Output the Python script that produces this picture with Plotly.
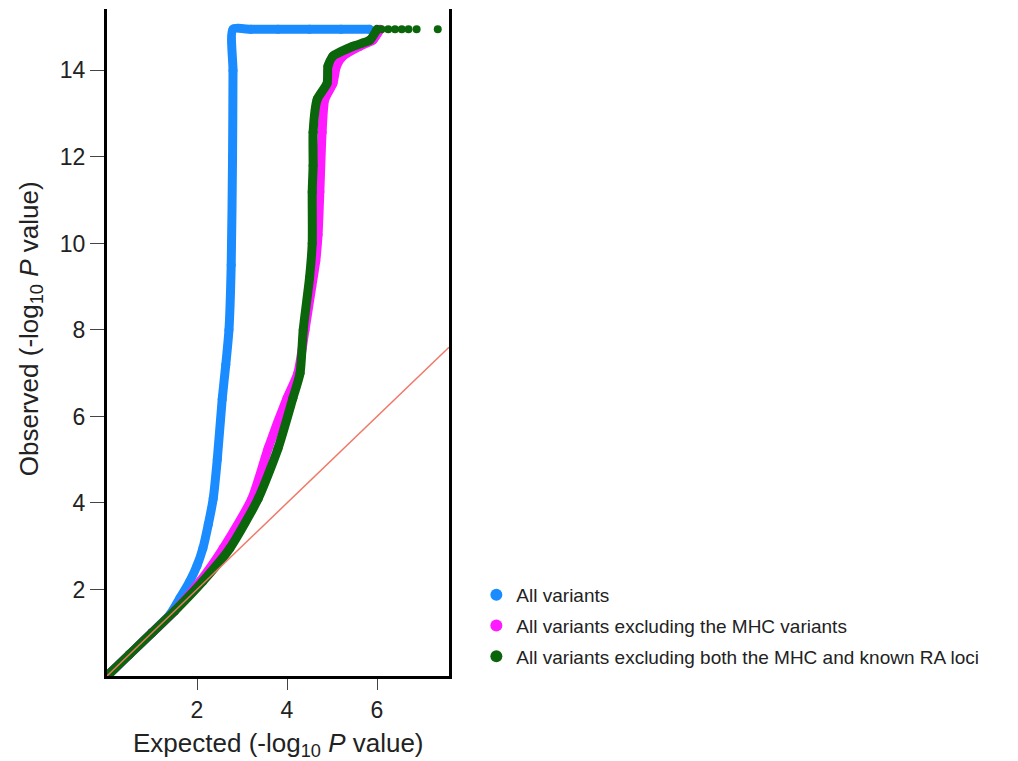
import plotly.graph_objects as go

# Expected (-log10 P) vs Observed (-log10 P)
blue_x = [0.05, 0.5, 1.0, 1.4, 1.62, 1.84, 2.0, 2.13, 2.25, 2.36, 2.45, 2.56, 2.64, 2.71, 2.76, 2.79, 2.8, 2.8,
          3.2, 3.8, 4.5, 5.2, 5.84]
blue_y = [0.05, 0.5, 1.0, 1.42, 1.8, 2.19, 2.55, 2.95, 3.5, 4.1, 5.0, 6.4, 7.2, 8.0, 9.5, 12.0, 14.0, 14.95,
          14.95, 14.95, 14.95, 14.95, 14.95]

mag_x = [0.05, 0.5, 1.0, 1.5, 2.07, 2.58, 3.22, 3.58, 4.0, 4.24, 4.4, 4.55, 4.64, 4.69, 4.73, 4.78, 4.84,
         5.02, 5.1, 5.24, 5.62, 5.91, 6.07]
mag_y = [0.05, 0.5, 1.0, 1.5, 2.19, 2.95, 4.1, 5.26, 6.42, 7.0, 8.0, 9.0, 9.6, 10.2, 11.19, 12.57, 13.33,
         13.7, 14.1, 14.33, 14.56, 14.7, 14.95]

green_x = [0.05, 0.5, 1.0, 1.5, 2.13, 2.73, 3.36, 3.8, 4.13, 4.29, 4.36, 4.5, 4.56, 4.56, 4.58, 4.58, 4.67,
           4.89, 4.91, 5.02, 5.47, 5.84, 6.0]
green_y = [0.05, 0.5, 1.0, 1.5, 2.19, 2.95, 4.1, 5.26, 6.42, 7.0, 8.0, 9.2, 10.0, 11.19, 11.8, 12.57, 13.33,
           13.7, 14.1, 14.33, 14.56, 14.7, 14.95]
green_tail_x = [6.1, 6.25, 6.4, 6.55, 6.7, 6.88, 7.35]
green_tail_y = [14.95, 14.95, 14.95, 14.95, 14.95, 14.95, 14.95]

null_x = [0, 7.6]
null_y = [0, 7.6]

series_names = ["All variants",
                "All variants excluding the MHC variants",
                "All variants excluding both the MHC and known RA loci"]
colors = ["#1a8cff", "#ff1aff", "#0b650b"]

x_title = "Expected (-log<sub>10</sub> <i>P</i> value)"
y_title = "Observed (-log<sub>10</sub> <i>P</i> value)"

fig = go.Figure()
for xs, ys, c in [(blue_x, blue_y, colors[0]), (mag_x, mag_y, colors[1]), (green_x, green_y, colors[2])]:
    fig.add_trace(go.Scatter(x=xs, y=ys, mode="lines+markers", showlegend=False,
                             line=dict(color=c, width=9, shape="spline", smoothing=0.6),
                             marker=dict(color=c, size=9), hoverinfo="skip"))
fig.add_trace(go.Scatter(x=green_tail_x, y=green_tail_y, mode="markers", showlegend=False,
                         marker=dict(color=colors[2], size=8)))
fig.add_trace(go.Scatter(x=null_x, y=null_y, mode="lines", showlegend=False,
                         line=dict(color="#f07868", width=1.5)))
for i, (name, c) in enumerate(zip(series_names, colors)):
    fig.add_trace(go.Scatter(x=[None], y=[None], mode="markers", name=name,
                             legendgroup="g%d" % i, marker=dict(color=c, size=8)))

fam = "Arial, Liberation Sans, sans-serif"
axis_font = dict(family=fam, size=23, color="#222")
title_font = dict(family=fam, size=26, color="#222")
fig.update_layout(
    width=1010, height=753,
    margin=dict(l=99, r=569, t=1, b=85),
    plot_bgcolor="white", paper_bgcolor="white",
    font=dict(family=fam, color="#222"),
    legend=dict(x=1.08, y=0.15, xanchor="left", yanchor="top",
                font=dict(size=19, color="#222"), tracegroupgap=3,
                itemsizing="constant"),
    xaxis=dict(range=[0, 7.6], tickvals=[2, 4, 6], showgrid=False, zeroline=False,
               showline=True, linecolor="black", linewidth=3, mirror=False,
               ticks="outside", ticklen=11, tickwidth=1, tickcolor="#444",
               tickfont=axis_font),
    yaxis=dict(range=[0, 15.42], tickvals=[2, 4, 6, 8, 10, 12, 14], showgrid=False, zeroline=False,
               showline=True, linecolor="black", linewidth=3, mirror=True,
               ticks="outside", ticklen=14, tickwidth=1, tickcolor="#444",
               tickfont=axis_font),
    annotations=[
        dict(text=x_title, xref="paper", yref="paper", x=0.5, y=-0.103,
             xanchor="center", yanchor="middle", showarrow=False, font=title_font),
        dict(text=y_title, xref="paper", yref="paper", x=-0.225, y=0.52, textangle=-90,
             xanchor="center", yanchor="middle", showarrow=False, font=title_font),
    ],
)
fig.write_html("out.html")
